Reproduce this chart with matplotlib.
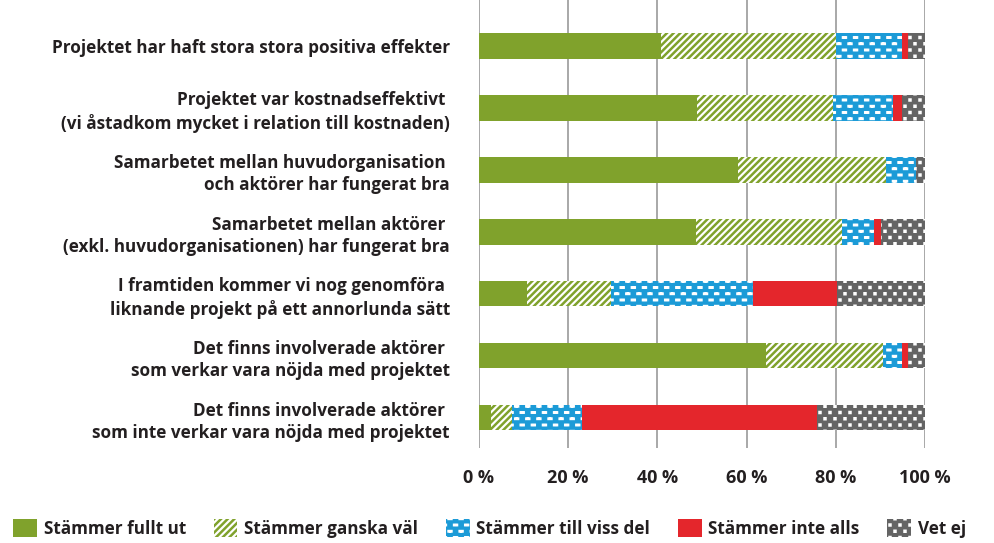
"""
Enkätsvar om projektet: staplad 100 %-stapel per påstående,
med mönsterfyllning per svarsalternativ.
"""

import numpy as np
import matplotlib

matplotlib.use("Agg")
import matplotlib.pyplot as plt  # noqa: E402
import matplotlib.hatch as mhatch  # noqa: E402
from matplotlib.path import Path  # noqa: E402


statements = [
    "Projektet har haft stora stora positiva effekter",
    "Projektet var kostnadseffektivt \n(vi åstadkom mycket i relation till kostnaden)",
    "Samarbetet mellan huvudorganisation \noch aktörer har fungerat bra",
    "Samarbetet mellan aktörer \n(exkl. huvudorganisationen) har fungerat bra",
    "I framtiden kommer vi nog genomföra \nliknande projekt på ett annorlunda sätt",
    "Det finns involverade aktörer \nsom verkar vara nöjda med projektet",
    "Det finns involverade aktörer \nsom inte verkar vara nöjda med projektet",
]
categories = ["Stämmer fullt ut", "Stämmer ganska väl", "Stämmer till viss del",
              "Stämmer inte alls", "Vet ej"]

fullt_ut = [40.8, 48.8, 58.1, 48.7, 10.8, 64.3, 2.8]
ganska_val = [39.2, 30.5, 33.2, 32.6, 18.9, 26.4, 4.7]
viss_del = [14.8, 13.5, 6.8, 7.3, 31.8, 4.1, 15.7]
inte_alls = [1.3, 2.0, 0.0, 1.5, 18.8, 1.3, 52.7]
vet_ej = [3.9, 5.2, 1.9, 9.9, 19.7, 3.9, 24.1]

x_ticks = [0, 20, 40, 60, 80, 100]
x_ticklabels = ["0 %", "20 %", "40 %", "60 %", "80 %", "100 %"]

GREEN = "#80a22c"
BLUE = "#1c9bd7"
RED = "#e4262c"
GREY = "#646464"
TEXT = "#231f20"


# matplotlib has no dash or sparse-dot fill, so swap in two small
# patterns of staggered boxes for the "-" and "." hatch characters
class StaggeredMarks(mhatch.HatchPatternBase):
    key, rows, cols, half_w, half_h = "", 16, 9, 0.0, 0.0

    def __init__(self, hatch, density):
        n = 0
        if self.key in hatch:
            n = (self.rows // 2 + 1) * (self.cols + 1) + (self.rows // 2) * self.cols
        self.num_vertices = n * 5

    def set_vertices_and_codes(self, vertices, codes):
        centres = []
        for r in range(self.rows + 1):
            if r % 2 == 0:
                xs = np.arange(self.cols + 1) / self.cols
            else:
                xs = (np.arange(self.cols) + 0.5) / self.cols
            centres += [(x, r / self.rows) for x in xs]
        box = np.array([[-1, -1], [1, -1], [1, 1], [-1, 1], [-1, -1]]) * [self.half_w, self.half_h]
        vertices[:] = np.concatenate([box + c for c in centres])
        codes[:] = np.tile([Path.MOVETO, Path.LINETO, Path.LINETO, Path.LINETO,
                            Path.CLOSEPOLY], len(centres))


class Dashes(StaggeredMarks):
    key, rows, cols, half_w, half_h = "-", 16, 9, 0.0146, 0.002


class Dots(StaggeredMarks):
    key, rows, cols, half_w, half_h = ".", 16, 10, 0.005, 0.005


mhatch._hatch_types[:] = [
    Dashes if t is mhatch.HorizontalHatch else Dots if t is mhatch.SmallFilledCircles else t
    for t in mhatch._hatch_types
]

plt.rcParams["font.family"] = ["Open Sans", "DejaVu Sans"]
plt.rcParams["font.weight"] = "bold"
plt.rcParams["hatch.linewidth"] = 1.8


def main() -> None:
    series = [fullt_ut, ganska_val, viss_del, inte_alls, vet_ej]
    styles = [
        dict(color=GREEN),
        dict(color="white", edgecolor=GREEN, hatch="/////"),
        dict(color=BLUE, edgecolor="white", hatch="-"),
        dict(color=RED),
        dict(color=GREY, edgecolor="white", hatch="."),
    ]

    fig = plt.figure(figsize=(9.95, 5.43), dpi=100)
    ax = fig.add_axes([0.4814, 0.175, 0.4482, 0.825])

    y = np.arange(len(statements))
    left = np.zeros(len(statements))
    for name, values, style in zip(categories, series, styles):
        ax.barh(y, values, left=left, height=0.41, linewidth=0, label=name, **style)
        left += np.array(values)

    ax.set_xlim(0, 100)
    ax.set_ylim(6.49, -0.743)
    ax.set_xticks(x_ticks)
    ax.set_xticklabels(x_ticklabels, fontsize=13, color=TEXT)
    ax.set_yticks(y)
    ax.set_yticklabels(statements, fontsize=12.3, color=TEXT, linespacing=1.3)
    ax.tick_params(axis="x", length=0, pad=15)
    ax.tick_params(axis="y", length=0, pad=21)

    ax.grid(axis="x", color="#9a9a9a", linewidth=1.2)
    ax.set_axisbelow(True)
    for spine in ax.spines.values():
        spine.set_visible(False)

    fig.legend(loc="lower center", bbox_to_anchor=(0.492, -0.012), ncol=5, frameon=False,
               fontsize=12.3, handlelength=1.4, handleheight=1.3, handletextpad=0.4,
               columnspacing=1.6, borderaxespad=0.3, labelcolor=TEXT)

    fig.savefig("out.png", dpi=100)


if __name__ == "__main__":
    main()
